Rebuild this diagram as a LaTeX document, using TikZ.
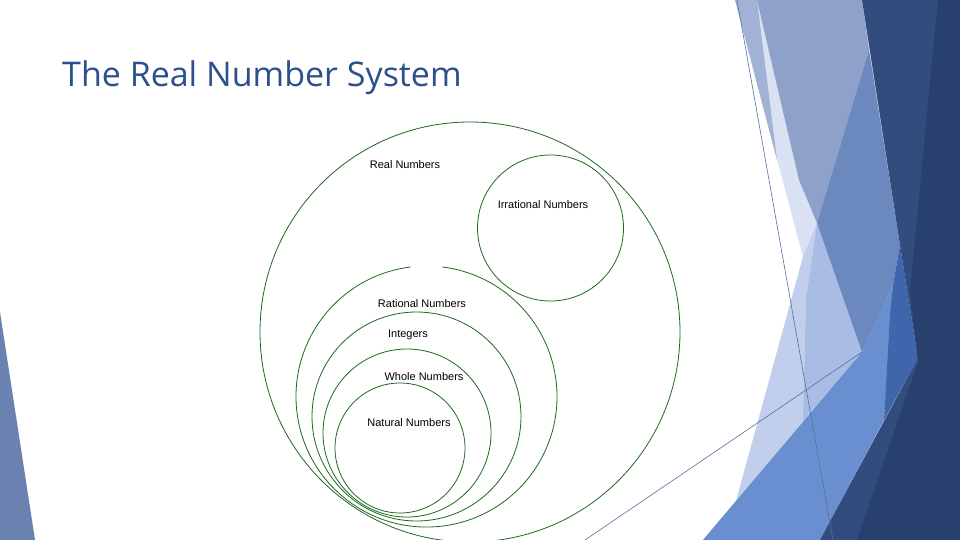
\documentclass[tikz,border=0pt]{standalone}
\usepackage{fontspec}
\setmainfont{Liberation Sans}
\newfontfamily\titlefont{Open Sans}
\usetikzlibrary{positioning}

\definecolor{titleblue}{RGB}{44,80,140}
\definecolor{setgreen}{RGB}{30,105,30}
\definecolor{guideblue}{RGB}{84,112,160}
\definecolor{facetleft}{RGB}{107,129,177}
\definecolor{fvlight}{RGB}{217,225,242}
\definecolor{flight}{RGB}{194,207,236}
\definecolor{fsteellt}{RGB}{162,178,212}
\definecolor{fsteel}{RGB}{142,162,201}
\definecolor{flav}{RGB}{169,188,228}
\definecolor{fmsteel}{RGB}{108,137,191}
\definecolor{fblue}{RGB}{106,143,209}
\definecolor{fwedge}{RGB}{63,102,172}
\definecolor{fnavy}{RGB}{49,76,125}
\definecolor{fnavydk}{RGB}{39,64,110}

\begin{document}
\begin{tikzpicture}[x = 1pt, y = -1pt,
  setline/.style = {draw = setgreen, line width = 0.8pt},
  setlabel/.style = {font = \fontsize{11}{13}\selectfont, text = black, inner sep = 0pt},
  guide/.style = {draw = guideblue, line width = 0.6pt}]
\useasboundingbox (0,0) rectangle (960,540);
\fill[white] (0,0) rectangle (960,540);

% title
\node[anchor = base west, inner sep = 0pt, text = titleblue, font = \titlefont\fontsize{34}{40}\selectfont] (title) at (62,87) {The Real Number System};

% facets, left
\fill[facetleft] (0,312) -- (0,540) -- (35,540) -- cycle;

% facets, right
\fill[fvlight] (735,0) -- (960,0) -- (960,540) -- (703,540) -- (735,505) -- (803,257) -- cycle;
\fill[fsteellt] (735,0) -- (757,0) -- (777,160) -- cycle;
\fill[fsteel] (757,0) -- (862,0) -- (869,50) -- (817,223) -- (799,180) -- cycle;
\fill[flight] (803,257) -- (817,223) -- (806,300) -- (803,421) -- (703,540) -- (735,505) -- cycle;
\fill[flav] (817,223) -- (862,352) -- (803,421) -- (806,300) -- cycle;
\fill[fmsteel] (869,50) -- (900,245) -- (893,285) -- (862,352) -- (817,223) -- cycle;
\fill[fblue] (703,540) -- (862,352) -- (893,285) -- (884,420) -- (820,540) -- cycle;
\fill[fwedge] (900,245) -- (907,290) -- (918,358) -- (884,420) -- (890,316) -- (893,285) -- cycle;
\fill[fnavy] (862,0) -- (960,0) -- (960,540) -- (820,540) -- (918,358) -- (907,290) -- cycle;
\fill[fnavydk] (938,0) -- (960,0) -- (960,540) -- (857,540) -- (918,362) -- (910,290) -- cycle;

% thin guide lines
\coordinate (ga) at (737,0);
\coordinate (gb) at (833,540);
\coordinate (gc) at (585,540);
\coordinate (gd) at (862,352);
\draw[guide] (ga) -- (gb);
\draw[guide] (gc) -- (gd);

% the sets
\coordinate (real) at (470,332);
\coordinate (irr) at (550.5,228);
\coordinate (rat) at (426.5,396.5);
\coordinate (int) at (416.5,416.5);
\coordinate (whole) at (407,433);
\coordinate (nat) at (400,448);
\draw[setline] (real) circle[radius = 210pt];
\draw[setline] (irr) circle[radius = 73pt];
\draw[setline] (rat) ++(-15.9,-129.5) arc[start angle = 97, end angle = 443, radius = 130.5pt];
\draw[setline] (int) circle[radius = 104.5pt];
\draw[setline] (whole) circle[radius = 84pt];
\draw[setline] (nat) circle[radius = 65pt];

% labels
\node[setlabel] (reallbl) at (405,165) {Real Numbers};
\node[setlabel] (irrlbl) at (543,205) {Irrational Numbers};
\node[setlabel] (ratlbl) at (422,304) {Rational Numbers};
\node[setlabel] (intlbl) at (408,335) {Integers};
\node[setlabel] (wholelbl) at (424,377) {Whole Numbers};
\node[setlabel] (natlbl) at (409,423) {Natural Numbers};
\end{tikzpicture}
\end{document}
